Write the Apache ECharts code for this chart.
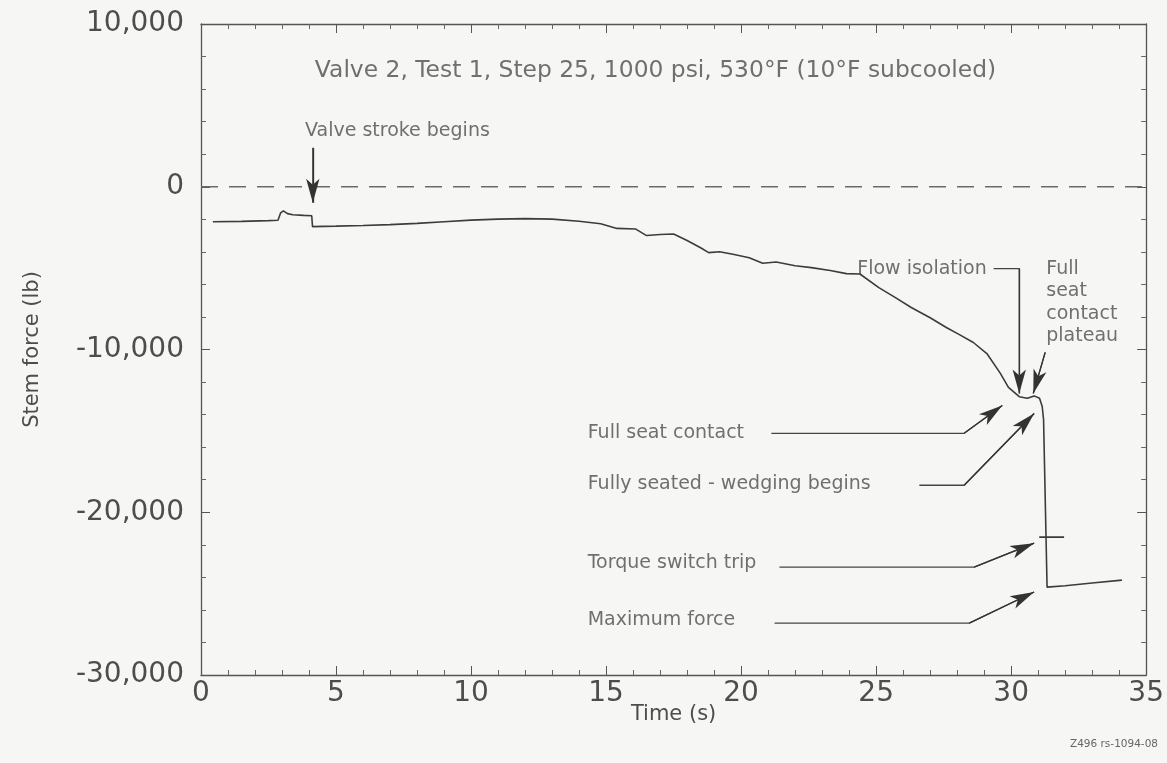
<!DOCTYPE html>
<html>
<head>
<meta charset="utf-8">
<script src="https://cdn.jsdelivr.net/npm/echarts@6/dist/echarts.min.js"></script>
<style>
  html, body { margin: 0; padding: 0; background: #f6f6f4; }
  #chart { width: 1167px; height: 763px; }
</style>
</head>
<body>
<div id="chart"></div>
<script>
// Stem force trace: time (s) and force (lb)
const timeS = [0.44, 1.5, 2.5, 2.85, 2.95, 3.05, 3.2, 3.4, 3.8, 4.1, 4.13, 5.0, 6.0, 7.0, 8.0, 9.0, 10.0, 11.0, 12.0, 13.0,
  14.0, 14.8, 15.4, 16.1, 16.5, 17.0, 17.5, 18.0, 18.5, 18.8, 19.2, 19.7, 20.3, 20.8, 21.3, 22.0, 22.6, 23.3, 23.9, 24.4,
  25.1, 25.7, 26.3, 27.0, 27.6, 28.1, 28.6, 29.1, 29.6, 29.9, 30.3, 30.6, 30.85, 31.05, 31.15, 31.2, 31.33, 32.0, 33.0, 34.1];
const forceLb = [-2150, -2130, -2080, -2060, -1600, -1480, -1650, -1720, -1760, -1780, -2450, -2420, -2380, -2330, -2250, -2150, -2050, -1990, -1960, -1990,
  -2120, -2270, -2560, -2600, -3000, -2930, -2900, -3300, -3750, -4050, -3990, -4150, -4360, -4700, -4620, -4850, -4970, -5150, -5340, -5360,
  -6200, -6800, -7420, -8050, -8650, -9100, -9570, -10250, -11470, -12330, -12900, -13000, -12850, -13000, -13500, -14300, -24600, -24520, -24350, -24170];

// Torque switch trip level, drawn as a short bar across the trace
const tripTimes = [31.04, 31.96];
const tripForce = -21530;

// Axis ranges
const xRange = [0, 35];
const yRange = [-30000, 10000];

// Annotation texts and their anchors (time s, force lb)
const noteTexts = [
  'Valve 2, Test 1, Step 25, 1000 psi, 530°F (10°F subcooled)',
  'Valve stroke begins',
  'Flow isolation',
  'Full\nseat\ncontact\nplateau',
  'Full seat contact',
  'Fully seated - wedging begins',
  'Torque switch trip',
  'Maximum force'
];
const noteAnchors = [
  [16.83, 7100],
  [3.85, 3440],
  [24.3, -5030],
  [31.3, -4350],
  [14.32, -15150],
  [14.32, -18280],
  [14.32, -23130],
  [14.32, -26630]
];

// Leader lines, each ending in an arrowhead at its last point
const leaders = [
  [[4.14, 2390], [4.14, -980]],
  [[29.35, -5030], [30.3, -5030], [30.3, -12700]],
  [[31.26, -10180], [30.82, -12700]],
  [[21.12, -15150], [28.26, -15150], [29.67, -13440]],
  [[26.6, -18340], [28.26, -18340], [30.85, -13930]],
  [[21.42, -23370], [28.63, -23370], [30.85, -21900]],
  [[21.24, -26810], [28.45, -26810], [30.85, -24900]]
];

const FONT = '"DejaVu Sans", Verdana, sans-serif';
const INK = '#3c3c3c';
const TEXT = '#4d4d4d';

const fmt = v => {
  const s = Math.abs(v).toString().replace(/\B(?=(\d{3})+(?!\d))/g, ',');
  return (v < 0 ? '-' : '') + s;
};

function axisCommon(extra) {
  return Object.assign({
    type: 'value',
    axisLine: { show: true, onZero: false, lineStyle: { color: '#555', width: 1.3 } },
    axisTick: { show: true, inside: true, length: 9, lineStyle: { color: '#555', width: 1 } },
    minorTick: { show: true, splitNumber: 5, length: 5, lineStyle: { color: '#666', width: 1 } },
    splitLine: { show: false },
    minorSplitLine: { show: false }
  }, extra);
}

const trace = timeS.map((t, i) => [t, forceLb[i]]);

const series = [
  {
    type: 'line',
    data: [[xRange[0], 0], [xRange[1], 0]],
    symbol: 'none',
    silent: true,
    lineStyle: { color: '#6a6a6a', width: 1.3, type: [17, 11] }
  },
  {
    type: 'line',
    data: trace,
    symbol: 'none',
    silent: true,
    lineStyle: { color: INK, width: 1.6 }
  },
  {
    type: 'line',
    data: tripTimes.map(t => [t, tripForce]),
    symbol: 'none',
    silent: true,
    lineStyle: { color: INK, width: 1.6 }
  }
];

leaders.forEach(pts => {
  const n = pts.length;
  series.push({
    type: 'line',
    data: pts,
    symbol: 'none',
    silent: true,
    lineStyle: { color: '#444', width: 1.3 },
    markLine: {
      silent: true,
      animation: false,
      symbol: ['none', 'arrow'],
      symbolSize: [10, 24],
      label: { show: false },
      lineStyle: { color: '#333', width: 1.3, type: 'solid' },
      data: [[{ coord: pts[n - 2] }, { coord: pts[n - 1] }]]
    }
  });
});

series.push({
  type: 'scatter',
  silent: true,
  symbolSize: 1,
  itemStyle: { color: 'rgba(0,0,0,0)' },
  data: noteTexts.map((txt, i) => {
    const base = {
      show: true,
      position: 'inside',
      formatter: txt,
      color: TEXT,
      fontFamily: FONT,
      fontSize: 19,
      align: 'left',
      verticalAlign: 'middle'
    };
    if (i === 0) { base.align = 'center'; base.fontSize = 23.4; }
    if (i === 3) { base.verticalAlign = 'top'; base.lineHeight = 22.5; }
    return { value: noteAnchors[i], label: base };
  })
});

const chart = echarts.init(document.getElementById('chart'), null, { renderer: 'canvas' });
chart.setOption({
  animation: false,
  backgroundColor: '#f6f6f4',
  grid: { left: 201, right: 20, top: 24, bottom: 88 },
  xAxis: [
    axisCommon({
      min: xRange[0], max: xRange[1], interval: 5, position: 'bottom',
      axisLabel: { show: true, color: TEXT, fontFamily: FONT, fontSize: 28, margin: 5 },
      name: 'Time (s)', nameLocation: 'middle', nameGap: 29, nameMoveOverlap: false,
      nameTextStyle: { color: TEXT, fontFamily: FONT, fontSize: 21 }
    }),
    axisCommon({
      min: xRange[0], max: xRange[1], interval: 5, position: 'top',
      axisLabel: { show: false }
    })
  ],
  yAxis: [
    axisCommon({
      min: yRange[0], max: yRange[1], interval: 10000, position: 'left',
      axisLabel: { show: true, color: TEXT, fontFamily: FONT, fontSize: 28, margin: 17, formatter: fmt },
      name: 'Stem force (lb)', nameLocation: 'middle', nameGap: 158,
      nameTextStyle: { color: TEXT, fontFamily: FONT, fontSize: 21 }
    }),
    axisCommon({
      min: yRange[0], max: yRange[1], interval: 10000, position: 'right',
      axisLabel: { show: false }
    })
  ],
  graphic: [{
    type: 'text',
    right: 9,
    bottom: 13,
    style: { text: 'Z496 rs-1094-08', fill: '#666', font: '10.5px ' + FONT }
  }],
  series: series
});
</script>
</body>
</html>
